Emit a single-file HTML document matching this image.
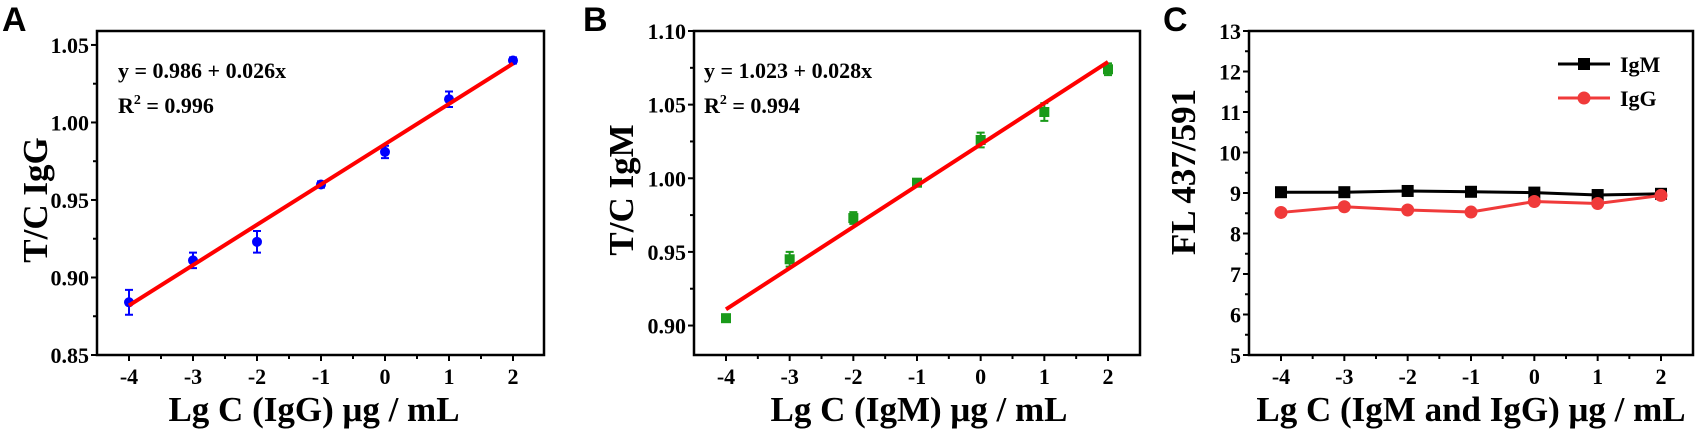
<!DOCTYPE html>
<html><head><meta charset="utf-8"><style>
html,body{margin:0;padding:0;background:#fff;}
svg{display:block;}
text{font-family:"Liberation Serif",serif;font-weight:bold;fill:#000;}
.lt{font-family:"Liberation Sans",sans-serif;}
</style></head><body>
<svg id="fig" width="1698" height="436" viewBox="0 0 1698 436" xmlns="http://www.w3.org/2000/svg"></svg>
<script>
const xCats = [-4, -3, -2, -1, 0, 1, 2];
const xTickLabels = ['-4','-3','-2','-1','0','1','2'];
const igGValues = [0.884, 0.911, 0.923, 0.960, 0.981, 1.015, 1.040];
const igGErrors = [0.008, 0.005, 0.007, 0.002, 0.004, 0.005, 0.002];
const igGFit = [0.986, 0.026];
const aYTicks = [0.85, 0.90, 0.95, 1.00, 1.05];
const aYTickLabels = ['0.85','0.90','0.95','1.00','1.05'];
const igMValues = [0.905, 0.945, 0.973, 0.997, 1.026, 1.045, 1.074];
const igMErrors = [0.002, 0.005, 0.004, 0.002, 0.005, 0.006, 0.004];
const igMFit = [1.023, 0.028];
const bYTicks = [0.90, 0.95, 1.00, 1.05, 1.10];
const bYTickLabels = ['0.90','0.95','1.00','1.05','1.10'];
const cIgM = [9.02, 9.02, 9.05, 9.03, 9.01, 8.95, 8.98];
const cIgG = [8.52, 8.66, 8.58, 8.53, 8.79, 8.74, 8.94];
const cYTicks = [5, 6, 7, 8, 9, 10, 11, 12, 13];
const cYTickLabels = ['5','6','7','8','9','10','11','12','13'];

const NS = 'http://www.w3.org/2000/svg';
const svg = document.getElementById('fig');
function mk(tag, attrs, parent, txt) {
  const e = document.createElementNS(NS, tag);
  for (const k in attrs) e.setAttribute(k, attrs[k]);
  if (txt !== undefined) e.textContent = txt;
  (parent || svg).appendChild(e);
  return e;
}

function panel(cfg) {
  const g = mk('g', {});
  
  
  const L = cfg.box[0], R = cfg.box[1], T = cfg.box[2], B = cfg.box[3];
  const sx = v => cfg.x0px + (v - xCats[0]) * (cfg.x2px - cfg.x0px) / (xCats[xCats.length-1] - xCats[0]);
  const sy = v => B - (v - cfg.ymin) * (B - T) / (cfg.ymax - cfg.ymin);
  const fr = mk('rect', {x:L, y:T, width:R-L, height:B-T, fill:'none', stroke:'#000', 'stroke-width':2.5}, g);
  
  
  xCats.forEach((c, i) => {
    const x = sx(c);
    mk('line', {x1:x, x2:x, y1:B, y2:B+6, stroke:'#000', 'stroke-width':2}, g);
    if (i < xCats.length - 1) {
      const xm = sx(c + 0.5);
      mk('line', {x1:xm, x2:xm, y1:B, y2:B+4, stroke:'#000', 'stroke-width':2}, g);
    }
    const t = mk('text', {x:x, y:B+29, 'font-size':22, 'text-anchor':'middle'}, g, xTickLabels[i]);
    
    
  });
  cfg.yTicks.forEach((v, i) => {
    const y = sy(v);
    mk('line', {x1:L-6, x2:L, y1:y, y2:y, stroke:'#000', 'stroke-width':2}, g);
    const t = mk('text', {x:L-8, y:y+8, 'font-size':22, 'text-anchor':'end'}, g, cfg.yTickLabels[i]);
    
    
    if (i < cfg.yTicks.length - 1) {
      const ym = sy((v + cfg.yTicks[i+1]) / 2);
      mk('line', {x1:L-4, x2:L, y1:ym, y2:ym, stroke:'#000', 'stroke-width':2}, g);
    }
  });
  const xt = mk('text', {x:cfg.xTitleX, y:421, 'font-size':35, 'text-anchor':'middle', 'xml:space':'preserve'}, g, cfg.xTitle);
  
  
  const yt = mk('text', {x:0, y:0, 'font-size':35, 'text-anchor':'middle', transform:'translate(' + cfg.yTitleX + ',' + cfg.yTitleY + ') rotate(-90)'}, g, cfg.yTitle);
  
  
  const pl = mk('text', {x:cfg.letterX, y:31, 'font-size':34, class:'lt'}, g, cfg.letter);
  
  
  return {g, sx, sy};
}

function fitPanel(cfg, vals, errs, fit, color, marker) {
  const p = panel(cfg);
  xCats.forEach((c, i) => {
    const x = p.sx(c), y = p.sy(vals[i]);
    const y1 = p.sy(vals[i] + errs[i]), y2 = p.sy(vals[i] - errs[i]);
    const eb = mk('path', {d:'M'+(x-4)+' '+y1+'H'+(x+4)+'M'+x+' '+y1+'V'+y2+'M'+(x-4)+' '+y2+'H'+(x+4), stroke:color, 'stroke-width':2, fill:'none'}, p.g);
    
    
    let m;
    if (marker === 'circle') m = mk('circle', {cx:x, cy:y, r:5, fill:color}, p.g);
    else m = mk('rect', {x:x-5, y:y-5, width:10, height:10, fill:color}, p.g);
    
    
  });
  const xa = xCats[0], xb = xCats[xCats.length-1];
  const ln = mk('line', {x1:p.sx(xa), y1:p.sy(fit[0]+fit[1]*xa), x2:p.sx(xb), y2:p.sy(fit[0]+fit[1]*xb), stroke:'#f00', 'stroke-width':4}, p.g);
  
  
  const e1 = mk('text', {x:cfg.eqX, y:78, 'font-size':22}, p.g, 'y = ' + fit[0].toFixed(3) + ' + ' + fit[1].toFixed(3) + 'x');
  
  
  const e2 = mk('text', {x:cfg.eqX, y:113, 'font-size':22}, p.g);
  
  
  e2.innerHTML = 'R<tspan dy="-9" font-size="14">2</tspan><tspan dy="9"> = ' + cfg.r2 + '</tspan>';
}

fitPanel({name:'panel-a', box:[97,544,31,355], x0px:129, x2px:513, ymin:0.85, ymax:1.059,
  yTicks:aYTicks, yTickLabels:aYTickLabels, xTitle:'Lg C (IgG) μg / mL', xTitleX:314,
  yTitle:'T/C IgG', yTitleX:47, yTitleY:200, letter:'A', letterX:2, eqX:118, r2:'0.996'},
  igGValues, igGErrors, igGFit, '#0000ff', 'circle');

fitPanel({name:'panel-b', box:[694,1140,31,355], x0px:726, x2px:1108, ymin:0.88, ymax:1.10,
  yTicks:bYTicks, yTickLabels:bYTickLabels, xTitle:'Lg C (IgM) μg / mL', xTitleX:919,
  yTitle:'T/C IgM', yTitleX:633, yTitleY:190, letter:'B', letterX:583, eqX:704, r2:'0.994'},
  igMValues, igMErrors, igMFit, '#1a9a1a', 'square');

(function(){
  const p = panel({name:'panel-c', box:[1249,1693,31,355], x0px:1281, x2px:1661, ymin:5, ymax:13,
    yTicks:cYTicks, yTickLabels:cYTickLabels, xTitle:'Lg C (IgM and IgG)  μg / mL', xTitleX:1471,
    yTitle:'FL 437/591', yTitleX:1195, yTitleY:172, letter:'C', letterX:1163});
  const series = [[cIgM, '#000', 'square', 'igm-line'], [cIgG, '#f03a3a', 'circle', 'igg-line']];
  series.forEach(s => {
    const d = xCats.map((c, i) => (i ? 'L' : 'M') + p.sx(c) + ' ' + p.sy(s[0][i])).join('');
    const pth = mk('path', {d:d, stroke:s[1], 'stroke-width':3, fill:'none'}, p.g);
    
    
    xCats.forEach((c, i) => {
      const x = p.sx(c), y = p.sy(s[0][i]);
      let m;
      if (s[2] === 'square') m = mk('rect', {x:x-6, y:y-6, width:12, height:12, fill:s[1]}, p.g);
      else m = mk('circle', {cx:x, cy:y, r:6.5, fill:s[1]}, p.g);
      
      
    });
  });
  const leg = mk('g', {}, p.g);
  
  
  mk('line', {x1:1558, x2:1610, y1:64, y2:64, stroke:'#000', 'stroke-width':3}, leg);
  mk('rect', {x:1578, y:58, width:12, height:12, fill:'#000'}, leg);
  const t1 = mk('text', {x:1620, y:72, 'font-size':22}, leg, 'IgM');
  
  
  mk('line', {x1:1558, x2:1610, y1:98, y2:98, stroke:'#f03a3a', 'stroke-width':3}, leg);
  mk('circle', {cx:1584, cy:98, r:6.5, fill:'#f03a3a'}, leg);
  const t2 = mk('text', {x:1620, y:106, 'font-size':22}, leg, 'IgG');
  
  
})();
</script>
</body></html>
